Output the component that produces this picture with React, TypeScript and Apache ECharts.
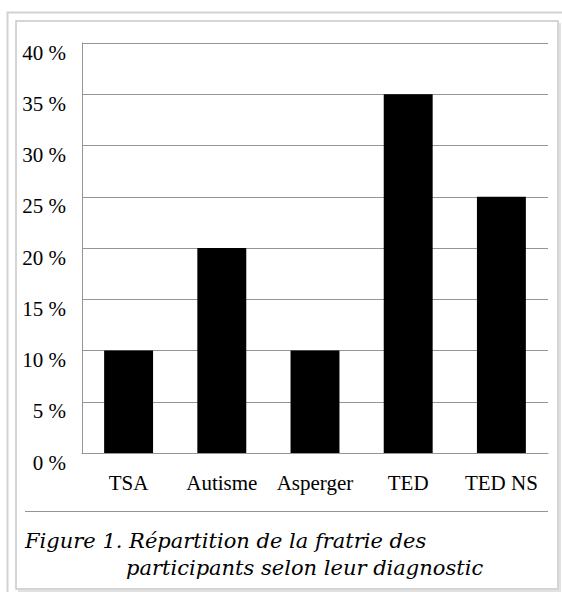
import React, { useEffect, useRef } from "react";
import * as echarts from "echarts";

const categories = ["TSA", "Autisme", "Asperger", "TED", "TED NS"];
const percentages = [10, 20, 10, 35, 25];
const yTicks = { min: 0, max: 40, interval: 5 };
const captionLine1 = "Figure 1. Répartition de la fratrie des";
const captionLine2 = "participants selon leur diagnostic";

export default function App() {
  const ref = useRef<HTMLDivElement>(null);
  useEffect(() => {
    if (!ref.current) return;
    const chart = echarts.init(ref.current, null, { renderer: "svg" });
    const lineGray = "#959595";
    const font = "'Liberation Serif', 'DejaVu Serif', serif";
    chart.setOption({
      animation: false,
      backgroundColor: "#ffffff",
      grid: { left: 82, top: 43, right: 14, bottom: 139, containLabel: false },
      xAxis: {
        type: "category",
        data: categories,
        axisTick: { show: false },
        axisLine: { lineStyle: { color: lineGray, width: 1 } },
        axisLabel: {
          interval: 0,
          color: "#000",
          fontFamily: font,
          fontSize: 21,
          margin: 19,
        },
      },
      yAxis: {
        type: "value",
        min: yTicks.min,
        max: yTicks.max,
        interval: yTicks.interval,
        axisLine: { show: true, lineStyle: { color: lineGray, width: 1 } },
        axisTick: { show: false },
        splitLine: { lineStyle: { color: lineGray, width: 1 } },
        axisLabel: {
          formatter: "{value} %",
          color: "#000",
          fontFamily: font,
          fontSize: 21,
          margin: 16,
          verticalAlign: "top",
          lineHeight: 19,
        },
      },
      series: [
        {
          type: "bar",
          data: percentages,
          barWidth: "52.5%",
          itemStyle: { color: "#000" },
        },
      ],
      graphic: [
        {
          type: "polyline",
          silent: true,
          shape: { points: [[7.5, 592], [7.5, 12.5], [562, 12.5]] },
          style: { stroke: "#d2d2d2", lineWidth: 2, fill: "none" },
        },
        {
          type: "polyline",
          silent: true,
          shape: { points: [[18, 591], [560, 591], [560, 23]] },
          style: { stroke: "#e2e2e2", lineWidth: 2, fill: "none" },
        },
        {
          type: "rect",
          silent: true,
          shape: { x: 16, y: 21, width: 542, height: 568 },
          style: { stroke: "#c8c8c8", lineWidth: 1.5, fill: "none" },
        },
        {
          type: "line",
          silent: true,
          shape: { x1: 25, y1: 511.5, x2: 548, y2: 511.5 },
          style: { stroke: lineGray, lineWidth: 1 },
        },
        {
          type: "text",
          silent: true,
          x: 25,
          y: 541,
          style: {
            text: captionLine1,
            font: "italic 21px 'DejaVu Serif', serif",
            fill: "#000",
            verticalAlign: "middle",
            align: "left",
          },
        },
        {
          type: "text",
          silent: true,
          x: 126,
          y: 568,
          style: {
            text: captionLine2,
            font: "italic 21px 'DejaVu Serif', serif",
            fill: "#000",
            verticalAlign: "middle",
            align: "left",
          },
        },
      ],
    });
    return () => chart.dispose();
  }, []);
  return (
    <div
      ref={ref}
      style={{ position: "absolute", left: 0, top: 0, width: 562, height: 592 }}
    />
  );
}
